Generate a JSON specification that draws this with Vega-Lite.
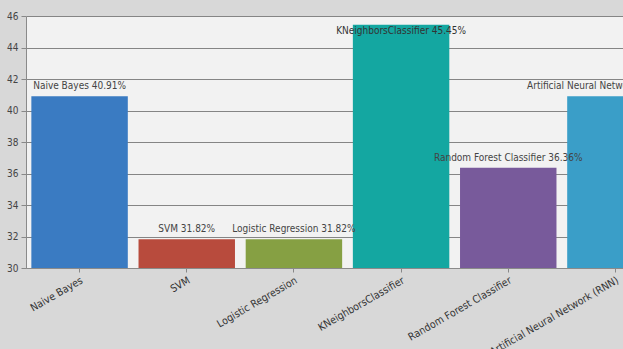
{
  "$schema": "https://vega.github.io/schema/vega-lite/v6.json",
  "width": 597,
  "height": 252,
  "autosize": {"type": "none"},
  "padding": {"left": 26, "top": 16, "right": 0, "bottom": 81},
  "background": "#d8d8d8",
  "config": {
    "view": {"fill": "#f2f2f2", "stroke": null},
    "font": "DejaVu Sans Condensed"
  },
  "data": {
    "values": [
      {"model": "Naive Bayes", "accuracy": 40.91, "label": "Naive Bayes 40.91%"},
      {"model": "SVM", "accuracy": 31.82, "label": "SVM 31.82%"},
      {"model": "Logistic Regression", "accuracy": 31.82, "label": "Logistic Regression 31.82%"},
      {"model": "KNeighborsClassifier", "accuracy": 45.45, "label": "KNeighborsClassifier 45.45%"},
      {"model": "Random Forest Classifier", "accuracy": 36.36, "label": "Random Forest Classifier 36.36%"},
      {"model": "Artificial Neural Network (RNN)", "accuracy": 40.91, "label": "Artificial Neural Network (RNN) 40.91%"}
    ]
  },
  "encoding": {
    "x": {
      "field": "model",
      "type": "nominal",
      "sort": null,
      "scale": {"range": [0, 643], "paddingInner": 0.1, "paddingOuter": 0.05},
      "axis": {
        "title": null,
        "labelAngle": -30,
        "labelAlign": "right",
        "labelBaseline": "top",
        "labelFontSize": 10.5,
        "labelColor": "#333333",
        "labelPadding": 3,
        "tickSize": 4,
        "tickColor": "#888888",
        "domainColor": "#8a8a8a",
        "labelOverlap": false
      }
    },
    "y": {
      "field": "accuracy",
      "type": "quantitative",
      "scale": {"domain": [30, 46], "nice": false, "zero": false},
      "axis": {
        "title": null,
        "values": [30, 32, 34, 36, 38, 40, 42, 44, 46],
        "labelFontSize": 10,
        "labelColor": "#444444",
        "tickSize": 5,
        "tickColor": "#888888",
        "domainColor": "#8a8a8a",
        "gridColor": "#858585",
        "gridOpacity": 1,
        "labelPadding": 3
      }
    }
  },
  "layer": [
    {
      "mark": {"type": "bar", "clip": true},
      "encoding": {
        "color": {
          "field": "model",
          "type": "nominal",
          "sort": null,
          "legend": null,
          "scale": {
            "domain": ["Naive Bayes", "SVM", "Logistic Regression", "KNeighborsClassifier", "Random Forest Classifier", "Artificial Neural Network (RNN)"],
            "range": ["#3a7bc2", "#b84b3d", "#86a043", "#14a7a1", "#785a9b", "#3a9ec8"]
          }
        }
      }
    },
    {
      "transform": [{"filter": "datum.accuracy <= 44"}],
      "mark": {"type": "text", "clip": true, "dy": -5, "fontSize": 10, "color": "#444444", "baseline": "bottom"},
      "encoding": {"text": {"field": "label"}}
    },
    {
      "transform": [{"filter": "datum.accuracy > 44"}],
      "mark": {"type": "text", "clip": true, "dy": 1, "fontSize": 10, "color": "#333333", "baseline": "top"},
      "encoding": {"text": {"field": "label"}}
    }
  ]
}
